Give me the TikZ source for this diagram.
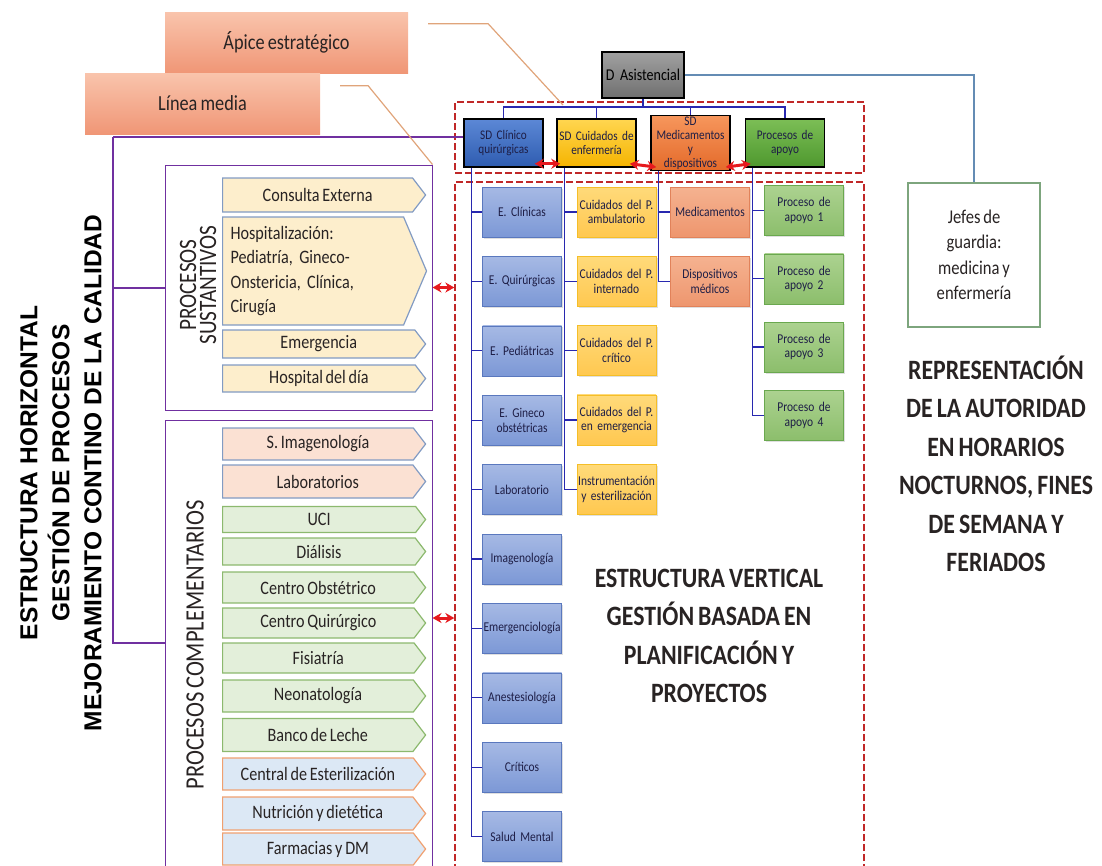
\documentclass[tikz,border=0pt]{standalone}
\usepackage{fontspec}
\setmainfont{Carlito}[FakeStretch=0.85, WordSpace=0.75]
\newfontfamily\arialfont{Liberation Sans}
\usetikzlibrary{arrows.meta,shapes.symbols,shadows}

\definecolor{purp}{RGB}{112,48,160}
\definecolor{orgblue}{RGB}{40,40,175}
\definecolor{lineTan}{RGB}{224,164,122}
\definecolor{frameRed}{RGB}{192,40,40}
\definecolor{arrRed}{RGB}{230,25,30}
\definecolor{salTop}{RGB}{249,196,172}
\definecolor{salBot}{RGB}{240,150,118}
\definecolor{txtdark}{RGB}{40,35,35}
\definecolor{boxtext}{RGB}{30,30,70}
% top row
\definecolor{sdaTop}{RGB}{92,136,214}\definecolor{sdaBot}{RGB}{46,92,176}
\definecolor{sdbTop}{RGB}{255,214,80}\definecolor{sdbBot}{RGB}{245,180,0}
\definecolor{sdcTop}{RGB}{246,150,92}\definecolor{sdcBot}{RGB}{228,106,42}
\definecolor{sddTop}{RGB}{124,190,86}\definecolor{sddBot}{RGB}{78,152,46}
\definecolor{grTop}{RGB}{160,160,160}\definecolor{grBot}{RGB}{112,112,112}
% columns
\definecolor{aTop}{RGB}{166,185,228}\definecolor{aBot}{RGB}{124,152,214}\definecolor{aLine}{RGB}{90,120,190}
\definecolor{bTop}{RGB}{255,218,122}\definecolor{bBot}{RGB}{255,200,80}\definecolor{bLine}{RGB}{245,190,40}
\definecolor{cTop}{RGB}{245,178,144}\definecolor{cBot}{RGB}{238,150,110}\definecolor{cLine}{RGB}{225,130,90}
\definecolor{dTop}{RGB}{172,210,144}\definecolor{dBot}{RGB}{140,190,108}\definecolor{dLine}{RGB}{106,168,79}
% chevrons
\definecolor{sustFill}{RGB}{253,238,204}
\definecolor{peachFill}{RGB}{251,225,211}
\definecolor{greenFill}{RGB}{227,239,218}
\definecolor{blueFill}{RGB}{220,232,245}
\definecolor{chevBlue}{RGB}{130,155,195}
\definecolor{greenLine}{RGB}{140,185,110}
\definecolor{orangeLine}{RGB}{240,160,112}
\definecolor{jefeLine}{RGB}{125,165,125}
\definecolor{steel}{RGB}{100,140,180}

\begin{document}
\frenchspacing
\begin{tikzpicture}[x=1pt, y=-1pt,
    salbox/.style={top color=salTop, bottom color=salBot, minimum height=61pt, font=\fontsize{21.5}{24}\selectfont, text=txtdark},
    sdbox/.style={draw=black, line width=1.5pt, minimum width=79pt, minimum height=48pt, text width=77pt, align=center, inner sep=1pt, font=\fontsize{13.2}{14}\selectfont, text=boxtext},
    cbox/.style={minimum width=78pt, minimum height=50pt, text width=77pt, align=center, inner sep=1pt, line width=0.6pt, font=\fontsize{13.5}{14.5}\selectfont, text=boxtext, drop shadow={opacity=0.25, shadow xshift=1.5pt, shadow yshift=-1.5pt}},
    colA/.style={cbox, top color=aTop, bottom color=aBot, draw=aLine},
    colB/.style={cbox, top color=bTop, bottom color=bBot, draw=bLine},
    colC/.style={cbox, top color=cTop, bottom color=cBot, draw=cLine},
    colD/.style={cbox, top color=dTop, bottom color=dBot, draw=dLine},
    procbox/.style={draw=purp, line width=1pt, minimum width=267pt},
    purpline/.style={draw=purp, line width=2pt},
    orgline/.style={draw=orgblue, line width=1.3pt},
    tanline/.style={draw=lineTan, line width=1.2pt},
    dashframe/.style={draw=frameRed, line width=1.3pt, dash pattern=on 7pt off 3pt, minimum width=409pt},
    redarr/.style={{Stealth[length=9pt,width=10pt]}-{Stealth[length=9pt,width=10pt]}, draw=arrRed, line width=3pt},
    chev/.style={shape=signal, signal to=east, signal pointer angle=105, anchor=west, minimum width=203pt, inner xsep=8pt, inner ysep=1pt, line width=1.2pt, font=\fontsize{19}{24.5}\selectfont, text=txtdark},
    chsust/.style={chev, fill=sustFill, draw=chevBlue},
    chpeach/.style={chev, fill=peachFill, draw=chevBlue},
    chgreen/.style={chev, fill=greenFill, draw=greenLine},
    chblue/.style={chev, fill=blueFill, draw=orangeLine},
    bigtext/.style={align=center, font=\fontsize{28}{38.5}\selectfont\bfseries, text=txtdark}
]
\useasboundingbox (0,0) rectangle (1102,865);

% Left title
\node[rotate=90, align=center, font=\arialfont\bfseries\fontsize{24.5}{32}\selectfont] (htitle) at (61,473)
    {ESTRUCTURA HORIZONTAL\\GESTIÓN DE PROCESOS\\MEJORAMIENTO CONTINO DE LA CALIDAD};

% Apex and middle line
\node[salbox, minimum width=243pt] (apice) at (286.5,42.5) {Ápice estratégico};
\node[salbox, minimum width=235pt] (linea) at (202.5,103.5) {Línea media};

% Dashed frames
\node[dashframe, minimum height=71pt] (topfrm) at (659.5,137.5) {};
\node[dashframe, minimum height=700pt] (botfrm) at (659.5,532) {};

% Process groups
\node[procbox, minimum height=245pt] (sust) at (298.5,287.5) {};
\node[procbox, minimum height=446pt] (comp) at (298.5,643) {};
\node[rotate=90, align=center, font=\fontsize{25}{20}\selectfont, text=txtdark] (sustlbl) at (198,285) {PROCESOS\\SUSTANTIVOS};
\node[rotate=90, font=\fontsize{26.5}{28}\selectfont, text=txtdark] (complbl) at (195,645) {PROCESOS COMPLEMENTARIOS};

% Core processes
\node[chsust, minimum height=34pt] (cext) at (222,195) {Consulta Externa};
\node[chsust, minimum height=108pt, signal pointer angle=134, text width=165pt, align=left] (hosp) at (222,271)
    {Hospitalización:\\Pediatría, Gineco-\\Onstericia, Clínica,\\Cirugía};
\node[chsust, minimum height=28pt] (emer) at (222,344) {Emergencia};
\node[chsust, minimum height=27pt] (hdia) at (222,378.5) {Hospital del día};

% Complementary processes
\foreach \nm/\yc/\hh/\sty/\txt in {simg/444/32/chpeach/{S. Imagenología}, labs/481.5/33/chpeach/Laboratorios,
    uci/519.5/26/chgreen/UCI, dial/551.5/27/chgreen/Diálisis, cobs/587.5/31/chgreen/{Centro Obstétrico},
    cquir/623/30/chgreen/{Centro Quirúrgico}, fisi/658/30/chgreen/Fisiatría, neo/696/32/chgreen/Neonatología,
    banco/735/33/chgreen/{Banco de Leche}, cest/774/32/chblue/{Central de Esterilización},
    nutr/813.5/33/chblue/{Nutrición y dietética}, farm/849/32/chblue/{Farmacias y DM}}{
    \node[\sty, minimum height=\hh pt] (\nm) at (222,\yc) {\txt};
}

% Top management
\node[sdbox, top color=grTop, bottom color=grBot, minimum width=80pt, minimum height=46pt, text width=80pt, font=\fontsize{16.5}{17}\selectfont, text=black] (dasis) at (643,75) {D Asistencial};
\node[sdbox, top color=sdaTop, bottom color=sdaBot] (sd1) at (503.5,143) {SD Clínico\\quirúrgicas};
\node[sdbox, top color=sdbTop, bottom color=sdbBot] (sd2) at (596.5,143) {SD Cuidados de\\enfermería};
\node[sdbox, top color=sdcTop, bottom color=sdcBot] (sd3) at (690.5,143) {SD\\Medicamentos y\\dispositivos};
\node[sdbox, top color=sddTop, bottom color=sddBot] (sd4) at (785,143) {Procesos de\\apoyo};

\coordinate (bus) at (643,107);
\draw[orgline] (dasis.south) -- (bus);
\foreach \n in {sd1,sd2,sd3,sd4}
    \draw[orgline] (bus) -| (\n.north);

% Vertical columns
\foreach \txt [count=\i from 0] in {E. Clínicas, E. Quirúrgicas, E. Pediátricas, {E. Gineco\\obstétricas}, Laboratorio,
    Imagenología, Emergenciología, Anestesiología, Críticos, Salud Mental}{
    \node[colA] (ea\i) at (522,{212+69.4*\i}) {\txt};
    \draw[orgline] ([xshift=8pt]sd1.south west) |- (ea\i.west);
}
\foreach \txt [count=\i from 0] in {{Cuidados del P.\\ambulatorio}, {Cuidados del P.\\internado}, {Cuidados del P.\\crítico},
    {Cuidados del P.\\en emergencia}, {Instrumentación\\y esterilización}}{
    \node[colB] (eb\i) at (616.5,{212+69.3*\i}) {\txt};
    \draw[orgline] ([xshift=8pt]sd2.south west) |- (eb\i.west);
}
\foreach \txt [count=\i from 0] in {Medicamentos, {Dispositivos\\médicos}}{
    \node[colC] (ec\i) at (710,{212+69.5*\i}) {\txt};
    \draw[orgline] ([xshift=8pt]sd3.south west) |- (ec\i.west);
}
\foreach \i in {1,...,4}{
    \node[colD] (ed\i) at (804,{210.5+68.3*(\i-1)}) {Proceso de\\apoyo \i};
    \draw[orgline] ([xshift=8pt]sd4.south west) |- (ed\i.west);
}

% Night authority
\node[draw=jefeLine, line width=1.2pt, minimum width=132pt, minimum height=144pt, align=center,
    font=\fontsize{19.5}{25.5}\selectfont, text=txtdark] (jefes) at (974,255) {Jefes de\\guardia:\\medicina y\\enfermería};
\draw[draw=steel, line width=1.2pt] (dasis.east) -| (jefes.north);

% Horizontal bracket
\coordinate (hz) at (113,137);
\draw[purpline] (hz) -- (hz -| sd1.west);
\draw[purpline] (hz) |- (comp.west);
\draw[purpline] (hz |- sust.west) -- (sust.west);

% Pointer lines
\draw[tanline] ([shift={(20,12)}]apice.north east) -- ++(60,0) -- (563,105);
\draw[tanline] ([shift={(20,13)}]linea.north east) -- ++(28,0) -- (sust.north east);

% Red links
\draw[redarr] ([shift={(-9,-4)}]sd1.south east) -- ([shift={(4,-4)}]sd2.south west);
\draw[redarr] ([shift={(-7,-4)}]sd2.south east) -- ([shift={(6,-4)}]sd3.south west);
\draw[redarr] ([shift={(-5,-4)}]sd3.south east) -- ([shift={(6,-4)}]sd4.south west);
\draw[redarr] (sust.east) -- (sust.east -| botfrm.west);
\coordinate (ca) at ([yshift=25pt]comp.east);
\draw[redarr] (ca) -- (ca -| botfrm.west);

% Titles
\node[bigtext] (vtitle) at (709,636) {ESTRUCTURA VERTICAL\\GESTIÓN BASADA EN\\PLANIFICACIÓN Y\\PROYECTOS};
\node[bigtext] (ntitle) at (996,464) {REPRESENTACIÓN\\DE LA AUTORIDAD\\EN HORARIOS\\NOCTURNOS, FINES\\DE SEMANA Y\\FERIADOS};
\end{tikzpicture}
\end{document}
